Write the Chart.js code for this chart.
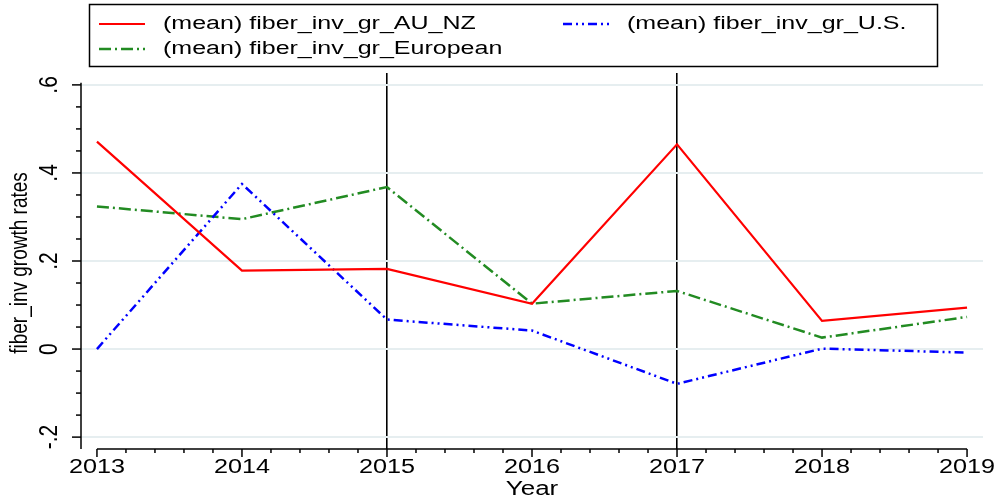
<!DOCTYPE html>
<html>
<head>
<meta charset="utf-8">
<script src="https://cdn.jsdelivr.net/npm/chart.js@4.4.1/dist/chart.umd.min.js"></script>
<style>
  html, body { margin: 0; padding: 0; background: #fff; }
  #wrap { width: 1001px; height: 503px; }
</style>
</head>
<body>
<div id="wrap"><canvas id="grafico"></canvas></div>
<script>
// datos
const years = [2013, 2014, 2015, 2016, 2017, 2018, 2019];
const auNz = [0.471, 0.178, 0.182, 0.103, 0.465, 0.064, 0.094];
const european = [0.324, 0.295, 0.368, 0.103, 0.132, 0.026, 0.073];
const us = [0.000, 0.375, 0.067, 0.042, -0.079, 0.001, -0.008];
const yTicks = [-0.2, 0, 0.2, 0.4, 0.6];
const yTickLabels = ['-.2', '0', '.2', '.4', '.6'];
const markedYears = [2015, 2017];

const FONT = '"Liberation Sans", Arial, sans-serif';

function puntos(vals) {
  return years.map((y, i) => ({ x: y, y: vals[i] }));
}

// texto estirado en horizontal (el original esta estirado)
function texto(ctx, s, x, y, size, sx, align, rot) {
  ctx.save();
  ctx.translate(x, y);
  ctx.scale(sx, 1);
  if (rot) ctx.rotate(-Math.PI / 2);
  ctx.font = size + 'px ' + FONT;
  ctx.fillStyle = '#000';
  ctx.textAlign = align;
  ctx.textBaseline = 'middle';
  ctx.fillText(s, 0, 0);
  ctx.restore();
}

const ejesStata = {
  id: 'ejesStata',
  afterDraw(chart) {
    const ctx = chart.ctx;
    const xs = chart.scales.x, ys = chart.scales.y;
    const area = chart.chartArea;
    ctx.save();
    ctx.strokeStyle = '#000';
    ctx.lineWidth = 1.5;

    // eje y
    const yTop = ys.getPixelForValue(0.605);
    ctx.beginPath();
    ctx.moveTo(area.left, yTop);
    ctx.lineTo(area.left, area.bottom);
    ctx.stroke();
    for (let v = -0.2; v <= 0.6001; v += 0.05) {
      const py = ys.getPixelForValue(v);
      const major = Math.abs(v / 0.2 - Math.round(v / 0.2)) < 1e-6;
      ctx.beginPath();
      ctx.moveTo(area.left, py);
      ctx.lineTo(area.left - (major ? 9 : 5), py);
      ctx.stroke();
    }
    yTicks.forEach((v, i) => {
      texto(ctx, yTickLabels[i], 50, ys.getPixelForValue(v), 21, 1.2, 'center', true);
    });
    texto(ctx, 'fiber_inv growth rates', 20, (area.top + area.bottom) / 2 + 2, 19, 1.3, 'center', true);

    // eje x
    const x0 = xs.getPixelForValue(years[0]);
    const x1 = xs.getPixelForValue(years[years.length - 1]);
    ctx.beginPath();
    ctx.moveTo(x0, area.bottom);
    ctx.lineTo(x1, area.bottom);
    ctx.stroke();
    for (let v = years[0]; v <= years[years.length - 1] + 0.001; v += 0.2) {
      const px = xs.getPixelForValue(v);
      const major = Math.abs(v - Math.round(v)) < 1e-6;
      ctx.beginPath();
      ctx.moveTo(px, area.bottom);
      ctx.lineTo(px, area.bottom + (major ? 8 : 4));
      ctx.stroke();
    }
    years.forEach(y => {
      texto(ctx, String(y), xs.getPixelForValue(y), 467, 20, 1.26, 'center');
    });
    texto(ctx, 'Year', (x0 + x1) / 2, 489, 20, 1.3, 'center');

    // leyenda
    ctx.lineWidth = 1.5;
    ctx.strokeRect(89.5, 4.5, 848, 62);
    const pos = [[99, 24], [563, 24], [99, 49]];
    chart.data.datasets.forEach((ds, i) => {
      const [lx, ly] = pos[i];
      ctx.save();
      ctx.strokeStyle = ds.borderColor;
      ctx.lineWidth = ds.borderWidth;
      ctx.setLineDash(ds.borderDash || []);
      ctx.beginPath();
      ctx.moveTo(lx, ly);
      ctx.lineTo(lx + 46, ly);
      ctx.stroke();
      ctx.restore();
      texto(ctx, ds.label, lx + 64, ly, 18, 1.39, 'left');
    });
    ctx.restore();
  }
};

const grafico = new Chart(document.getElementById('grafico').getContext('2d'), {
  type: 'line',
  data: {
    datasets: [{
      label: '(mean) fiber_inv_gr_AU_NZ',
      data: puntos(auNz),
      borderColor: '#ff0000',
      borderWidth: 2.2,
      pointRadius: 0,
      tension: 0
    }, {
      label: '(mean) fiber_inv_gr_U.S.',
      data: puntos(us),
      borderColor: '#0000ff',
      borderWidth: 2.5,
      borderDash: [9, 4, 2, 4, 2, 4],
      pointRadius: 0,
      tension: 0
    }, {
      label: '(mean) fiber_inv_gr_European',
      data: puntos(european),
      borderColor: '#228b22',
      borderWidth: 2.5,
      borderDash: [12, 4, 2, 4],
      pointRadius: 0,
      tension: 0
    }]
  },
  options: {
    responsive: true,
    maintainAspectRatio: false,
    animation: false,
    devicePixelRatio: 1,
    layout: { padding: { top: 73, right: 18, left: 0, bottom: 0 } },
    plugins: {
      legend: { display: false },
      tooltip: { enabled: false }
    },
    scales: {
      x: {
        type: 'linear',
        min: 2012.89,
        max: 2019.11,
        afterBuildTicks: s => { s.ticks = markedYears.map(v => ({ value: v })); },
        afterFit: s => { s.height = 54; },
        ticks: { display: false },
        grid: { color: '#000', lineWidth: 1.6, drawTicks: false },
        border: { display: false }
      },
      y: {
        min: -0.227,
        max: 0.627,
        afterBuildTicks: s => { s.ticks = yTicks.map(v => ({ value: v })); },
        afterFit: s => { s.width = 81; },
        ticks: { display: false },
        grid: { color: '#e6eef0', lineWidth: 2, drawTicks: false },
        border: { display: false }
      }
    }
  },
  plugins: [ejesStata]
});
</script>
</body>
</html>
